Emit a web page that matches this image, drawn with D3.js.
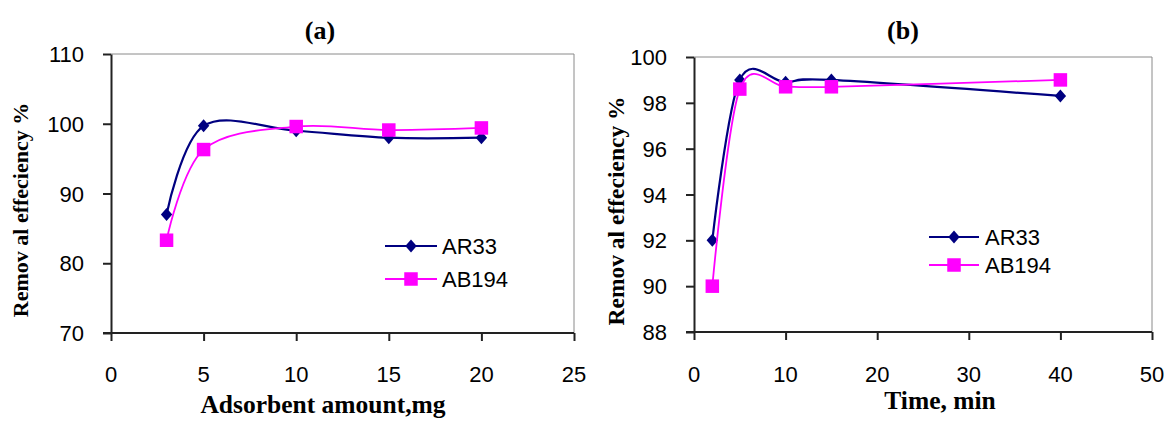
<!DOCTYPE html>
<html>
<head>
<meta charset="utf-8">
<script src="https://cdn.jsdelivr.net/npm/d3@7"></script>
<style>
  html, body { margin: 0; padding: 0; background: #fff; }
  svg { display: block; }
  .tick-label { font-family: "Liberation Sans", Arial, sans-serif; font-size: 22px; fill: #000; }
  .title { font-family: "Liberation Serif", "Times New Roman", serif; font-weight: bold; fill: #000; }
  .legend-label { font-family: "Liberation Sans", Arial, sans-serif; font-size: 22px; fill: #000; }
</style>
</head>
<body>
<svg id="chart" width="1170" height="421"></svg>
<script>
// data
const seriesNames = ["AR33", "AB194"];

const doseX = [3, 5, 10, 15, 20];
const doseAR33 = [87, 99.7, 99, 98, 98];
const doseAB194 = [83.3, 96.3, 99.6, 99.1, 99.4];
const doseXTicks = [0, 5, 10, 15, 20, 25];
const doseYTicks = [70, 80, 90, 100, 110];

const timeX = [2, 5, 10, 15, 40];
const timeAR33 = [92, 99, 98.9, 99, 98.3];
const timeAB194 = [90, 98.6, 98.7, 98.7, 99];
const timeXTicks = [0, 10, 20, 30, 40, 50];
const timeYTicks = [88, 90, 92, 94, 96, 98, 100];

const colors = { AR33: "#000080", AB194: "#ff00ff" };

const svg = d3.select("#chart");

const panels = [
  {
    title: "(a)", titleX: 320,
    xLabel: "Adsorbent amount,mg", xLabelX: 323, xLabelY: 413,
    yLabel: "Remov al effeciency %", yLabelX: 28, yLabelY: 210, yLabelSize: 22,
    left: 111, right: 574, top: 54, bottom: 333,
    xDomain: [0, 25], yDomain: [70, 110],
    xTicks: doseXTicks, yTicks: doseYTicks,
    x: doseX, series: { AR33: doseAR33, AB194: doseAB194 },
    legend: { x1: 385, x2: 437, y: [246, 279], textX: 442 },
  },
  {
    title: "(b)", titleX: 903,
    xLabel: "Time, min", xLabelX: 940, xLabelY: 409,
    yLabel: "Remov al effeciency %", yLabelX: 624, yLabelY: 211, yLabelSize: 23.5,
    left: 694, right: 1152, top: 57, bottom: 332,
    xDomain: [0, 50], yDomain: [88, 100],
    xTicks: timeXTicks, yTicks: timeYTicks,
    x: timeX, series: { AR33: timeAR33, AB194: timeAB194 },
    legend: { x1: 929, x2: 979, y: [237, 265], textX: 985 },
  },
];

function drawMarker(g, name, cx, cy) {
  if (name === "AR33") {
    const r = 6.5;
    g.append("path")
      .attr("d", `M${cx},${cy - r}L${cx + r - 0.8},${cy}L${cx},${cy + r}L${cx - r + 0.8},${cy}Z`)
      .attr("fill", colors.AR33);
  } else {
    const s = 13.5;
    g.append("rect")
      .attr("x", cx - s / 2).attr("y", cy - s / 2)
      .attr("width", s).attr("height", s)
      .attr("fill", colors.AB194);
  }
}

panels.forEach((p) => {
  const x = d3.scaleLinear().domain(p.xDomain).range([p.left, p.right]);
  const y = d3.scaleLinear().domain(p.yDomain).range([p.bottom, p.top]);
  const g = svg.append("g");

  // grey frame on top and right
  g.append("path")
    .attr("d", `M${p.left},${p.top}H${p.right}V${p.bottom}`)
    .attr("fill", "none")
    .attr("stroke", "#8a8a8a")
    .attr("stroke-width", 1);

  // axes
  const xAxis = g.append("g")
    .attr("transform", `translate(0,${p.bottom})`)
    .call(d3.axisBottom(x).tickValues(p.xTicks).tickSize(8).tickSizeOuter(0).tickFormat(""));
  const yAxis = g.append("g")
    .attr("transform", `translate(${p.left},0)`)
    .call(d3.axisLeft(y).tickValues(p.yTicks).tickSize(8).tickSizeOuter(0).tickFormat(""));

  [xAxis, yAxis].forEach((a) => {
    a.select(".domain").attr("stroke", "#222").attr("stroke-width", 2);
    a.selectAll(".tick line").attr("stroke", "#222").attr("stroke-width", 2);
  });
  // horizontal axis line reaches back over the left tick
  xAxis.select(".domain").attr("d", `M${p.left - 8},0H${p.right}`);

  // tick labels
  g.selectAll(".xt")
    .data(p.xTicks)
    .join("text")
    .attr("class", "tick-label")
    .attr("x", (d) => x(d))
    .attr("y", 382)
    .attr("text-anchor", "middle")
    .text((d) => d);

  g.selectAll(".yt")
    .data(p.yTicks)
    .join("text")
    .attr("class", "tick-label")
    .attr("x", p.left - 27)
    .attr("y", (d) => y(d) + 8)
    .attr("text-anchor", "end")
    .text((d) => d);

  // titles
  g.append("text")
    .attr("class", "title")
    .attr("x", p.titleX).attr("y", 39)
    .attr("text-anchor", "middle")
    .style("font-size", "26px")
    .text(p.title);

  g.append("text")
    .attr("class", "title")
    .attr("x", p.xLabelX).attr("y", p.xLabelY)
    .attr("text-anchor", "middle")
    .style("font-size", "25.5px")
    .text(p.xLabel);

  g.append("text")
    .attr("class", "title")
    .attr("transform", `translate(${p.yLabelX},${p.yLabelY}) rotate(-90)`)
    .attr("text-anchor", "middle")
    .style("font-size", p.yLabelSize + "px")
    .text(p.yLabel);

  // smoothed lines + markers
  const line = d3.line()
    .x((d) => x(d[0]))
    .y((d) => y(d[1]))
    .curve(d3.curveCardinal.tension(0));

  seriesNames.forEach((name) => {
    const pts = p.x.map((v, i) => [v, p.series[name][i]]);
    g.append("path")
      .datum(pts)
      .attr("d", line)
      .attr("fill", "none")
      .attr("stroke", colors[name])
      .attr("stroke-width", name === "AR33" ? 2.2 : 1.8);
    pts.forEach((d) => drawMarker(g, name, x(d[0]), y(d[1])));
  });

  // legend
  seriesNames.forEach((name, i) => {
    const ly = p.legend.y[i];
    g.append("line")
      .attr("x1", p.legend.x1).attr("x2", p.legend.x2)
      .attr("y1", ly).attr("y2", ly)
      .attr("stroke", colors[name])
      .attr("stroke-width", name === "AR33" ? 2.2 : 1.8);
    drawMarker(g, name, (p.legend.x1 + p.legend.x2) / 2, ly);
    g.append("text")
      .attr("class", "legend-label")
      .attr("x", p.legend.textX)
      .attr("y", ly + 8)
      .text(name);
  });
});
</script>
</body>
</html>
